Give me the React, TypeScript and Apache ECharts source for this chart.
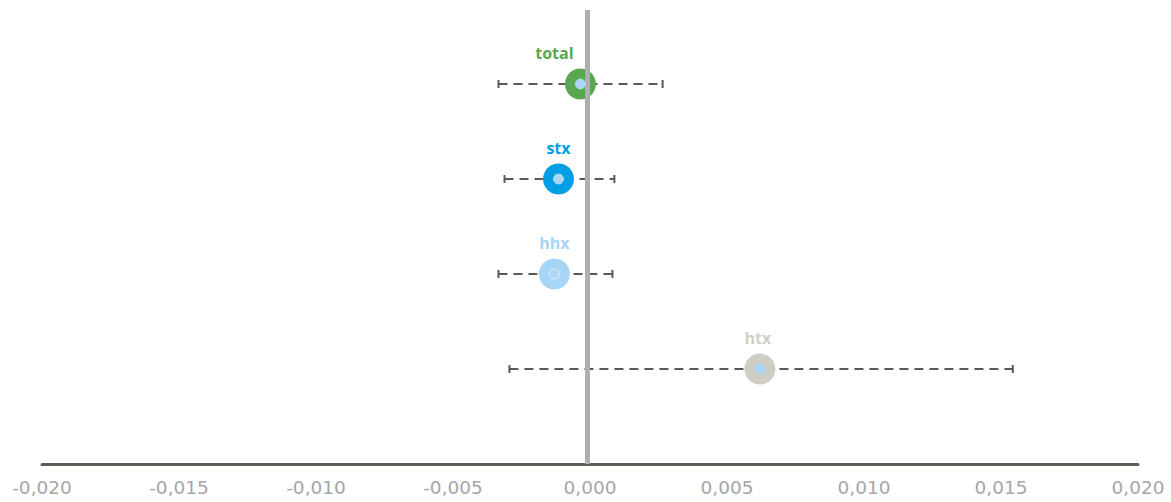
import React, { useEffect, useRef } from "react";
import * as echarts from "echarts";

const names = ["total", "stx", "hhx", "htx"];
const estimates = [-0.00035, -0.00115, -0.0013, 0.0062];
const lower = [-0.00334, -0.00312, -0.00334, -0.00294];
const upper = [0.00265, 0.00089, 0.00082, 0.01543];
const rows = [4, 3, 2, 1];
const colors = ["#5aa651", "#009fe3", "#a8d4f5", "#d0cec4"];
const labelOffsets = [[-26, 0], [0, 0], [0, 0], [-2, 0]];
const xTicks = { min: -0.02, max: 0.02, interval: 0.005 };
const yRange = { min: 0, max: 4.8 };
const zeroLine = { x: -0.0001, from: 0, to: 4.78 };

export default function App() {
  const ref = useRef<HTMLDivElement>(null);
  useEffect(() => {
    const chart = echarts.init(ref.current!, null, { renderer: "svg" });
    chart.setOption({
      animation: false,
      grid: { left: 42, right: 33, top: 8, bottom: 38, outerBoundsMode: "none", containLabel: false },
      xAxis: {
        type: "value",
        min: xTicks.min,
        max: xTicks.max,
        interval: xTicks.interval,
        splitLine: { show: false },
        axisTick: { show: false },
        axisLine: { show: true, lineStyle: { color: "#5f5e56", width: 3 } },
        axisLabel: {
          color: "#a6a6a6",
          fontFamily: "DejaVu Sans",
          fontSize: 18.5,
          margin: 14,
          formatter: (v: number) => v.toFixed(3).replace(".", ","),
        },
      },
      yAxis: { type: "value", min: yRange.min, max: yRange.max, show: false },
      series: [
        {
          type: "custom",
          data: names.map((n, i) => [lower[i], upper[i], rows[i]]),
          renderItem: (params: any, api: any) => {
            const a = api.coord([api.value(0), api.value(2)]);
            const b = api.coord([api.value(1), api.value(2)]);
            const style = { stroke: "#5a5a52", lineWidth: 2 };
            return {
              type: "group",
              children: [
                { type: "line", shape: { x1: a[0], y1: a[1], x2: b[0], y2: b[1] }, style: { ...style, lineDash: [9, 6] } },
                { type: "line", shape: { x1: a[0], y1: a[1] - 4, x2: a[0], y2: a[1] + 4 }, style },
                { type: "line", shape: { x1: b[0], y1: b[1] - 4, x2: b[0], y2: b[1] + 4 }, style },
              ],
            };
          },
          z: 1,
        },
        {
          type: "scatter",
          data: [],
          markLine: {
            silent: true,
            symbol: "none",
            label: { show: false },
            lineStyle: { color: "#b1afad", width: 5, type: "solid", opacity: 1 },
            data: [[{ coord: [zeroLine.x, zeroLine.from] }, { coord: [zeroLine.x, zeroLine.to] }]],
          },
          z: 3,
        },
        {
          type: "scatter",
          symbolSize: 31,
          data: names.map((n, i) => ({
            name: n,
            value: [estimates[i], rows[i]],
            itemStyle: { color: colors[i], opacity: 1 },
            label: {
              show: true,
              position: "top",
              distance: 8,
              offset: labelOffsets[i],
              formatter: n,
              color: colors[i],
              fontFamily: "Open Sans",
              fontWeight: "bold",
              fontSize: 16,
            },
          })),
          z: 4,
        },
        {
          type: "scatter",
          symbolSize: 10,
          data: names.map((n, i) => ({
            value: [estimates[i], rows[i]],
            itemStyle: {
              color: "#aed6f5",
              borderColor: i === 2 ? "#e8f3fc" : "#aed6f5",
              borderWidth: 1,
              opacity: 1,
            },
          })),
          z: 5,
        },
      ],
    });
    return () => chart.dispose();
  }, []);
  return (
    <div
      ref={ref}
      style={{ position: "absolute", left: 0, top: 0, width: 1171, height: 502 }}
    />
  );
}
